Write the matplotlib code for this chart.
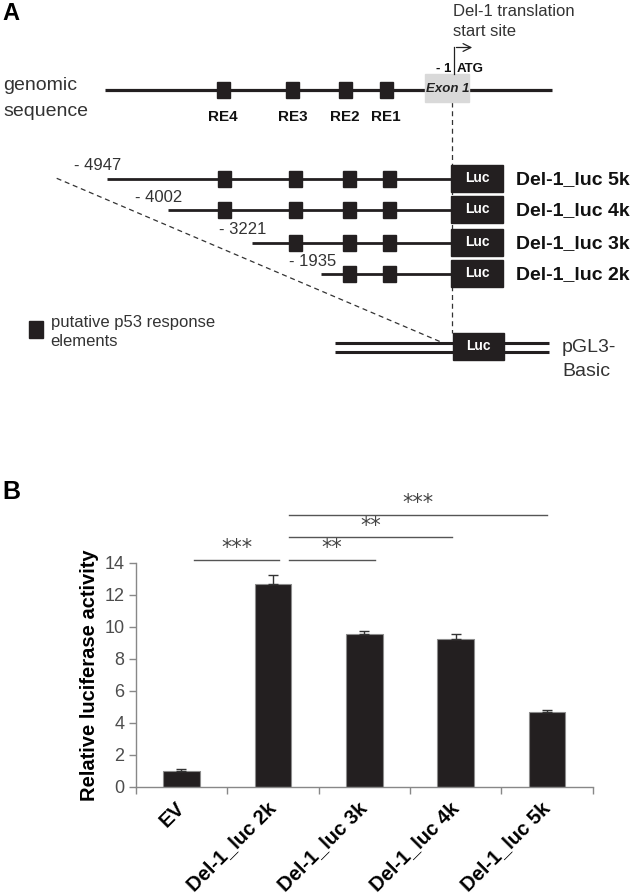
import matplotlib
matplotlib.use("Agg")
import matplotlib.pyplot as plt
from matplotlib.patches import Rectangle

plt.rcParams['font.family'] = ['Liberation Sans', 'DejaVu Sans']

# panel B data
categories = ['EV', 'Del-1_luc 2k', 'Del-1_luc 3k', 'Del-1_luc 4k', 'Del-1_luc 5k']
activity = [0.96, 12.65, 9.52, 9.21, 4.69]
err_up = [0.12, 0.55, 0.21, 0.31, 0.12]
sig_labels = ['***', '**', '**', '***']
sig_from = [0.14, 1.18, 1.18, 1.18]
sig_to = [1.07, 2.12, 2.96, 4.0]
sig_y = [14.17, 14.17, 15.59, 17.0]

# panel A schematic data
re_names = ['RE4', 'RE3', 'RE2', 'RE1']
constructs = ['Del-1_luc 5k', 'Del-1_luc 4k', 'Del-1_luc 3k', 'Del-1_luc 2k']
start_labels = ['- 4947', '- 4002', '- 3221', '- 1935']
n_re = [4, 4, 3, 2]

dark = '#231f20'
txt = '#333333'

fig = plt.figure(figsize=(6.36, 8.96), dpi=100)

# ---------- panel A: schematic drawn in pixel coordinates ----------
ax0 = fig.add_axes([0, 0, 1, 1])
ax0.set_xlim(0, 636)
ax0.set_ylim(896, 0)
ax0.axis('off')

ax0.text(2, 14, 'A', fontsize=17, fontweight='bold', va='center', ha='left')

# genomic sequence
gy = 90
ax0.text(3, 86, 'genomic', fontsize=14, color=txt, va='center', ha='left')
ax0.text(3, 111, 'sequence', fontsize=14, color=txt, va='center', ha='left')
ax0.plot([105, 552], [gy, gy], color=dark, lw=2.3, solid_capstyle='butt', zorder=2)
g_re_x = [223, 292.5, 345, 386]
for name, x in zip(re_names, g_re_x):
    ax0.add_patch(Rectangle((x - 6.5, gy - 7.8), 13, 15.6, color=dark, zorder=3))
    ax0.text(x, 117, name, fontsize=11, fontweight='bold', color='#111', ha='center', va='center')

ax0.add_patch(Rectangle((425.3, 74.3), 44, 27.4, color='#d9d9d9', zorder=3))
ax0.text(447.5, 88.5, 'Exon 1', fontsize=9.5, fontstyle='italic', fontweight='bold',
         color='#222', ha='center', va='center', zorder=4)
ax0.text(451, 69, '- 1', fontsize=9.5, fontweight='bold', color='#111', ha='right', va='center')
ax0.text(457, 69, 'ATG', fontsize=9.5, fontweight='bold', color='#111', ha='left', va='center')
ax0.plot([454, 454], [74.3, 47.5], color='#222', lw=0.9, zorder=4)
ax0.annotate('', xy=(475, 47.5), xytext=(453.6, 47.5),
             arrowprops=dict(arrowstyle='->', color='#222', lw=0.9, mutation_scale=14))
ax0.text(453, 12, 'Del-1 translation', fontsize=12, color=txt, ha='left', va='center')
ax0.text(453, 32, 'start site', fontsize=12, color=txt, ha='left', va='center')

# deletion constructs
c_y = [179, 210, 243, 274]
c_x0 = [106.7, 167.7, 251.7, 321]
c_re_x = [224, 295.5, 349, 389]
luc_x0, luc_w, luc_h = 451, 52, 27
for name, lab, y, x0, n in zip(constructs, start_labels, c_y, c_x0, n_re):
    ax0.plot([x0, luc_x0], [y, y], color=dark, lw=2.0, solid_capstyle='butt', zorder=2)
    for x in c_re_x[len(c_re_x) - n:]:
        ax0.add_patch(Rectangle((x - 6.5, y - 8), 13, 16, color=dark, zorder=3))
    ax0.add_patch(Rectangle((luc_x0, y - luc_h / 2), luc_w, luc_h, color=dark, zorder=3))
    ax0.text(luc_x0 + luc_w / 2, y - 1, 'Luc', fontsize=10, fontweight='bold', color='white',
             ha='center', va='center', zorder=4)
    ax0.text(516, y + 1, name, fontsize=14, fontweight='bold', color='#111', ha='left', va='center')
    ax0.text(x0 + 15, y - 13, lab, fontsize=12, color=txt, ha='right', va='center')

# dashed guide lines
ax0.plot([451.5, 451.5], [102, 333], color='#333', lw=0.9, ls=(0, (4, 3)), zorder=1)
ax0.plot([56.7, 441.7], [178.3, 342.3], color='#333', lw=0.9, ls=(0, (4, 3)), zorder=1)

# pGL3-Basic vector
for y in [343.3, 351.7]:
    ax0.plot([335, 549.3], [y, y], color=dark, lw=2.2, solid_capstyle='butt', zorder=2)
ax0.add_patch(Rectangle((452.7, 333.3), 51.3, 26.7, color=dark, zorder=3))
ax0.text(478.3, 346, 'Luc', fontsize=10, fontweight='bold', color='white', ha='center', va='center', zorder=4)
ax0.text(562, 348, 'pGL3-', fontsize=14, color=txt, ha='left', va='center')
ax0.text(562, 371, 'Basic', fontsize=14, color=txt, ha='left', va='center')

# legend for RE boxes
ax0.add_patch(Rectangle((29.3, 321), 13.4, 16.7, color=dark, zorder=3))
ax0.text(50.7, 322, 'putative p53 response', fontsize=12, color=txt, ha='left', va='center')
ax0.text(50.7, 341, 'elements', fontsize=12, color=txt, ha='left', va='center')

ax0.text(2, 492, 'B', fontsize=18, fontweight='bold', va='center', ha='left')

# ---------- panel B: bar chart ----------
ax = fig.add_axes([0.2134, 0.1220, 0.7186, 0.2500])
ax.patch.set_alpha(0)
xs = list(range(len(categories)))
ax.bar(xs, activity, width=0.4, color=dark, edgecolor='#8c8c8c', linewidth=0.8, zorder=2)
ax.errorbar(xs, activity, yerr=[[0] * len(err_up), err_up], fmt='none',
            ecolor='#333', elinewidth=1.0, capsize=3.5, capthick=1.0, zorder=3)

ax.set_xlim(-0.5, len(categories) - 0.5)
ax.set_ylim(0, 14)
ax.set_yticks(range(0, 15, 2))
ax.tick_params(axis='y', labelsize=13, labelcolor='#4d4d4d', color='#888', length=5, width=1, pad=3)

ax.set_xticks(xs)
ax.set_xticklabels(categories, rotation=45, ha='right', va='center', rotation_mode='anchor',
                   fontsize=14.5, fontweight='bold')
ax.tick_params(axis='x', length=0, pad=13)
ax.set_xticks([x - 0.5 for x in range(len(categories) + 1)], minor=True)
ax.tick_params(axis='x', which='minor', length=5, width=1, color='#888', direction='out')

for side in ['top', 'right']:
    ax.spines[side].set_visible(False)
for side in ['left', 'bottom']:
    ax.spines[side].set_color('#888')
    ax.spines[side].set_linewidth(1)

ax.set_ylabel('Relative luciferase activity', fontsize=14.5, fontweight='bold', labelpad=4)

for lab, x0, x1, y in zip(sig_labels, sig_from, sig_to, sig_y):
    ax.plot([x0, x1], [y, y], color='#555', lw=1.0, clip_on=False)
    ax.text((x0 + x1) / 2, y + 0.1, lab, fontsize=15, color='#444', ha='center', va='bottom',
            family='DejaVu Sans')

fig.savefig('out.png', dpi=100)
